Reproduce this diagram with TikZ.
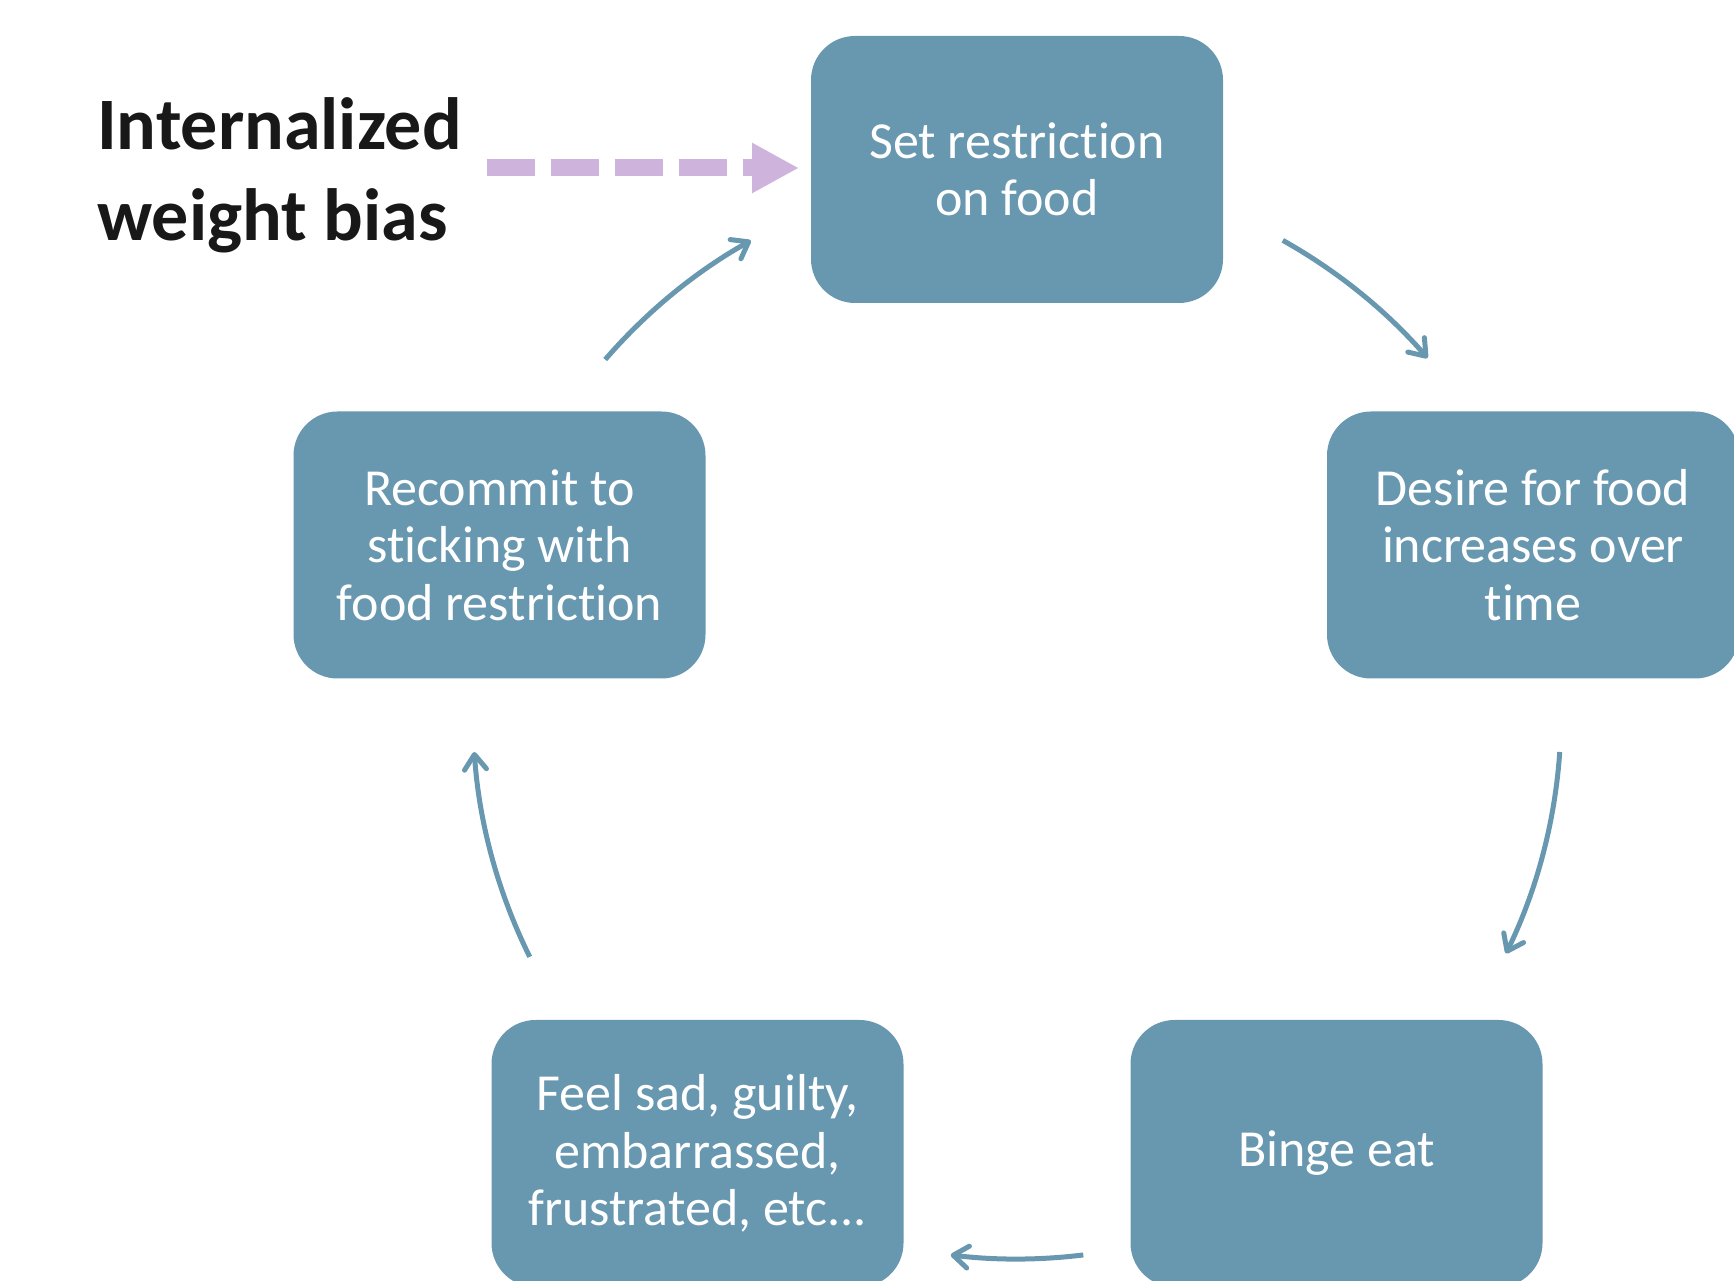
\documentclass[tikz,border=0pt]{standalone}
\usepackage{fontspec}
\setmainfont{Carlito}[Ligatures=NoCommon]
\usetikzlibrary{arrows.meta}
\definecolor{stepblue}{RGB}{104,151,176}
\definecolor{biaspurple}{RGB}{206,180,221}
\begin{document}
\begin{tikzpicture}[x=1pt,y=1pt,
  stepbox/.style={draw=none, fill=stepblue, text=white, rounded corners=44pt,
    minimum width=412pt, minimum height=267pt, inner sep=0pt, align=center,
    font=\fontsize{52}{57.5}\selectfont},
  cyc/.style={draw=stepblue, line width=5pt,
    -{Straight Barb[length=15pt,width=22pt,round]}},
  biasarrow/.style={draw=biaspurple, line width=17pt, dash pattern=on 48pt off 16pt,
    -{Triangle[length=47pt,width=47pt]}}
]
\useasboundingbox (0,0) rectangle (1734,1280);

% the five steps of the cycle
\node[stepbox] (restrict) at (1017,1110.5) {Set restriction\\on food};
\node[stepbox] (desire)   at (1533,735)    {Desire for food\\increases over\\time};
\node[stepbox] (binge)    at (1336.5,126.5) {Binge eat};
\node[stepbox] (feel)     at (697.5,126.5)  {Feel sad, guilty,\\embarrassed,\\frustrated, etc...};
\node[stepbox] (recommit) at (499.5,735)    {Recommit to\\sticking with\\food restriction};

% heading on the left (base anchor sits on the last line)
\node[anchor=base west, inner sep=0pt, align=left,
      font=\bfseries\fontsize{74}{91}\selectfont, text={rgb,255:red,24;green,24;blue,24}]
  (bias) at (97,1039) {Internalized\\weight bias};

% dashed arrow from the heading into the first step
\coordinate (biasstart) at (487,1112);
\coordinate (biasend) at (799,1112);
\draw[biasarrow] (biasstart) -- (biasend);

% curved arrows running round the cycle
\coordinate (hub) at (1017,565);
\draw[cyc] ([shift={(60.75:544)}]hub) arc[start angle=60.75, end angle=41, radius=544];
\draw[cyc] ([shift={(-3.9:544)}]hub) arc[start angle=-3.9, end angle=-26, radius=544];
\draw[cyc] ([shift={(-83:544)}]hub) arc[start angle=-83, end angle=-97, radius=544];
\draw[cyc] ([shift={(206.4:544)}]hub) arc[start angle=206.4, end angle=183.9, radius=544];
\draw[cyc] ([shift={(139.2:544)}]hub) arc[start angle=139.2, end angle=119.3, radius=544];
\end{tikzpicture}
\end{document}
